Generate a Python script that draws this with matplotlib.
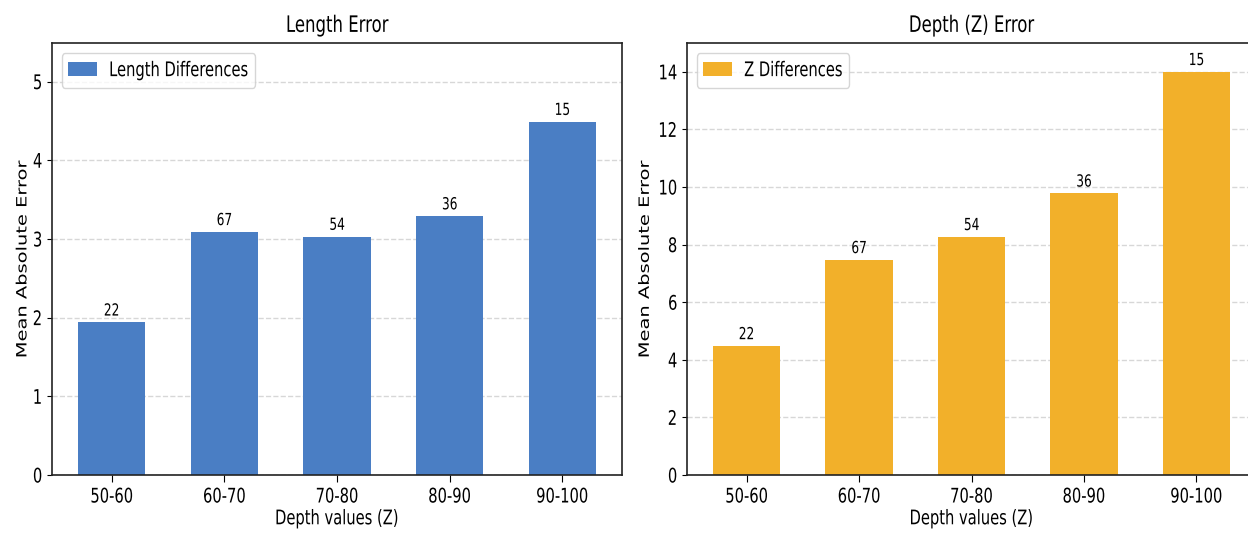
import matplotlib
matplotlib.use("Agg")
import matplotlib.pyplot as plt
from matplotlib.patheffects import AbstractPathEffect
from matplotlib.transforms import Affine2D

# datos
rangos = ["50-60", "60-70", "70-80", "80-90", "90-100"]
conteos = [22, 67, 54, 36, 15]
error_longitud = [1.94, 3.09, 3.03, 3.29, 4.49]
error_z = [4.48, 7.47, 8.27, 9.78, 14.0]

AZUL = "#4a7ec4"
NARANJA = "#f2b02a"
ESTRECHO = 0.73  # la figura original esta comprimida en horizontal


class Estrecho(AbstractPathEffect):
    """Comprime en x el trazo del artista, alrededor de un punto de anclaje."""

    def __init__(self, s=ESTRECHO, modo="center", x0=None):
        super().__init__()
        self.s = s
        self.modo = modo
        self.x0 = x0

    def draw_path(self, renderer, gc, tpath, affine, rgbFace=None):
        if self.x0 is not None:
            xa = self.x0
        else:
            ext = tpath.get_extents(affine)
            if self.modo == "left":
                xa = ext.x0
            elif self.modo == "right":
                xa = ext.x1
            else:
                xa = (ext.x0 + ext.x1) / 2
        t = affine + Affine2D().translate(-xa, 0).scale(self.s, 1).translate(xa, 0)
        renderer.draw_path(gc, tpath, t, rgbFace)


fig = plt.figure(figsize=(12.48, 5.35), dpi=100)
ax1 = fig.add_axes([52 / 1248, 60 / 535, 570 / 1248, 432 / 535])
ax2 = fig.add_axes([687 / 1248, 60 / 535, 569 / 1248, 432 / 535])


def dibujar(ax, valores, color, etiqueta, titulo, xlab):
    x = range(len(rangos))
    barras = ax.bar(x, valores, width=0.6, color=color, label=etiqueta, zorder=2)
    notas = []
    for b, n in zip(barras, conteos):
        notas.append(ax.annotate(str(n), (b.get_x() + b.get_width() / 2, b.get_height()),
                                 xytext=(0, 2), textcoords="offset points",
                                 ha="center", va="bottom", fontsize=12))
    ax.set_ylim(0, max(valores) + 1)
    ax.set_xticks(list(x))
    ax.set_xticklabels(rangos)
    ax.tick_params(axis="x", labelsize=14.5, length=5, pad=4)
    ax.tick_params(axis="y", labelsize=14.5, length=3.7, pad=3)
    ax.set_title(titulo, fontsize=16.3, pad=8)
    ax.set_xlabel("Depth values (Z)", fontsize=14.5, labelpad=2)
    ax.set_ylabel("Mean Absolute Error", fontsize=14)
    ax.yaxis.set_label_coords(xlab, 0.5)
    # la rejilla queda por encima de las barras, semitransparente
    ax.grid(axis="y", linestyle="--", color="#bdbdbd", alpha=0.6, linewidth=1, zorder=3)
    leg = ax.legend(loc="upper left", fontsize=14.5)
    for s in ax.spines.values():
        s.set_color("#222222")
        s.set_linewidth(1.2)
    return notas, leg


notas1, leg1 = dibujar(ax1, error_longitud, AZUL, "Length Differences", "Length Error", -0.0344)
notas2, leg2 = dibujar(ax2, error_z, NARANJA, "Z Differences", "Depth (Z) Error", -0.0566)
ax1.set_yticks([0, 1, 2, 3, 4, 5])

# primera pasada para conocer posiciones y luego comprimir los textos
fig.canvas.draw()
for ax, notas, leg in [(ax1, notas1, leg1), (ax2, notas2, leg2)]:
    centro = [Estrecho()]
    for t in notas + ax.get_xticklabels() + [ax.title, ax.xaxis.label, ax.yaxis.label]:
        t.set_path_effects(centro)
    for t in ax.get_yticklabels():
        t.set_path_effects([Estrecho(modo="right")])
    x0 = leg.get_window_extent().x0
    pe = [Estrecho(x0=x0)]
    leg.get_frame().set_path_effects(pe)
    for h in leg.legend_handles:
        h.set_path_effects(pe)
    for t in leg.get_texts():
        t.set_path_effects(pe)

fig.savefig("out.png", dpi=100)
